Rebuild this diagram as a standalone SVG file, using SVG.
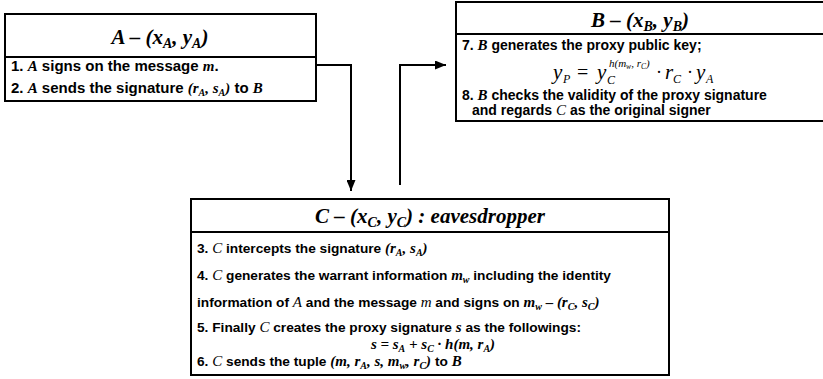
<svg xmlns="http://www.w3.org/2000/svg" width="823" height="379" viewBox="0 0 823 379">
<defs>
<marker id="arr" markerWidth="11" markerHeight="9" refX="11" refY="4.5" orient="auto" markerUnits="userSpaceOnUse"><path d="M0,0 L11,4.5 L0,9 z" fill="#000"/></marker>
<style>
.box{fill:#fff;stroke:#000;stroke-width:2}
.div{stroke:#000;stroke-width:2}
.h{font-family:"Liberation Serif","Times New Roman",serif;font-weight:bold;font-style:italic;font-size:21px;fill:#000}
.hs{font-size:14px}
.t{font-family:"Liberation Sans",Arial,sans-serif;font-weight:bold;font-size:14px;fill:#000}
.v{font-family:"Liberation Serif","Times New Roman",serif;font-style:italic;font-weight:bold;font-size:15px}
.vn{font-family:"Liberation Serif","Times New Roman",serif;font-style:italic;font-weight:normal;font-size:15px}
.s{font-size:10px}
.m{font-family:"Liberation Serif","Times New Roman",serif;font-style:italic;fill:#000}
.conn{stroke:#000;stroke-width:2;fill:none}
</style>
</defs>
<g id="connectors">
<path class="conn" d="M316,65 H351 V191" marker-end="url(#arr)"/>
<path class="conn" d="M400,185 V65 H446" marker-end="url(#arr)"/>
</g>
<g id="nodeA">
<rect class="box" x="5" y="14" width="311" height="87"/>
<line class="div" x1="5" y1="57" x2="316" y2="57"/>
<text class="h" x="160" y="44" text-anchor="middle">A – (x<tspan class="hs" dy="4">A</tspan><tspan dy="-4">, y</tspan><tspan class="hs" dy="4">A</tspan><tspan dy="-4">)</tspan></text>
<text class="t" x="11" y="71" style="font-size:15px">1. <tspan class="v">A</tspan> signs on the message <tspan class="v">m</tspan>.</text>
<text class="t" x="11" y="93" style="font-size:15px">2. <tspan class="v">A</tspan> sends the signature <tspan class="v">(r<tspan class="s" dy="3">A</tspan><tspan dy="-3">, s</tspan><tspan class="s" dy="3">A</tspan><tspan dy="-3">)</tspan></tspan> to <tspan class="v">B</tspan></text>
</g>
<g id="nodeB">
<rect class="box" x="456" y="2" width="370" height="119"/>
<line class="div" x1="456" y1="34" x2="826" y2="34"/>
<text class="h" x="640" y="27" text-anchor="middle">B – (x<tspan class="hs" dy="4">B</tspan><tspan dy="-4">, y</tspan><tspan class="hs" dy="4">B</tspan><tspan dy="-4">)</tspan></text>
<text class="t" x="462" y="50">7. <tspan class="v">B</tspan> generates the proxy public key;</text>
<text class="m" x="553" y="79" style="font-size:21px">y</text>
<text class="m" x="563" y="83" style="font-size:12px">P</text>
<text x="577" y="79" style="font-family:'Liberation Serif',serif;font-size:20px">=</text>
<text class="m" x="597" y="79" style="font-size:21px">y</text>
<text class="m" x="607" y="84" style="font-size:12px">C</text>
<text class="m" x="609" y="67" style="font-size:11px">h(m<tspan style="font-size:7.5px" dy="2">w</tspan><tspan dy="-2">, r</tspan><tspan style="font-size:7.5px" dy="2">C</tspan><tspan dy="-2">)</tspan></text>
<text x="656" y="78" style="font-family:'Liberation Serif',serif;font-size:18px">·</text>
<text class="m" x="665" y="79" style="font-size:21px">r</text>
<text class="m" x="673" y="83" style="font-size:12px">C</text>
<text x="687" y="78" style="font-family:'Liberation Serif',serif;font-size:18px">·</text>
<text class="m" x="696" y="79" style="font-size:21px">y</text>
<text class="m" x="706" y="83" style="font-size:12px">A</text>
<text class="t" x="462" y="100">8. <tspan class="v">B</tspan> checks the validity of the proxy signature</text>
<text class="t" x="472" y="115">and regards <tspan class="vn">C</tspan> as the original signer</text>
</g>
<g id="nodeC">
<rect class="box" x="191" y="199" width="478" height="176"/>
<line class="div" x1="191" y1="232" x2="669" y2="232"/>
<text class="h" x="430" y="223" text-anchor="middle">C – (x<tspan class="hs" dy="4">C</tspan><tspan dy="-4">, y</tspan><tspan class="hs" dy="4">C</tspan><tspan dy="-4">) : eavesdropper</tspan></text>
<g style="font-size:13.7px">
<text class="t" x="197" y="253" style="font-size:13.7px">3. <tspan class="vn">C</tspan> intercepts the signature <tspan class="v">(r<tspan class="s" dy="3">A</tspan><tspan dy="-3">, s</tspan><tspan class="s" dy="3">A</tspan><tspan dy="-3">)</tspan></tspan></text>
<text class="t" x="197" y="280" style="font-size:13.7px">4. <tspan class="vn">C</tspan> generates the warrant information <tspan class="v">m<tspan class="s" dy="3">w</tspan></tspan><tspan dy="-3"> including the identity</tspan></text>
<text class="t" x="197" y="307" style="font-size:13.7px">information of <tspan class="vn">A</tspan> and the message <tspan class="vn">m</tspan> and signs on <tspan class="v">m<tspan class="s" dy="3">w</tspan><tspan dy="-3"> – (r</tspan><tspan class="s" dy="3">C</tspan><tspan dy="-3">, s</tspan><tspan class="s" dy="3">C</tspan><tspan dy="-3">)</tspan></tspan></text>
<text class="t" x="197" y="332" style="font-size:13.7px">5. Finally <tspan class="vn">C</tspan> creates the proxy signature <tspan class="v">s</tspan> as the followings:</text>
<text class="v" x="433" y="349" text-anchor="middle">s = s<tspan class="s" dy="3">A</tspan><tspan dy="-3"> + s</tspan><tspan class="s" dy="3">C</tspan><tspan dy="-3"> · h(m, r</tspan><tspan class="s" dy="3">A</tspan><tspan dy="-3">)</tspan></text>
<text class="t" x="197" y="366" style="font-size:13.7px">6. <tspan class="vn">C</tspan> sends the tuple <tspan class="v">(m, r<tspan class="s" dy="3">A</tspan><tspan dy="-3">, s, m</tspan><tspan class="s" dy="3">w</tspan><tspan dy="-3">, r</tspan><tspan class="s" dy="3">C</tspan><tspan dy="-3">)</tspan></tspan> to <tspan class="v">B</tspan></text>
</g>
</g>
</svg>
